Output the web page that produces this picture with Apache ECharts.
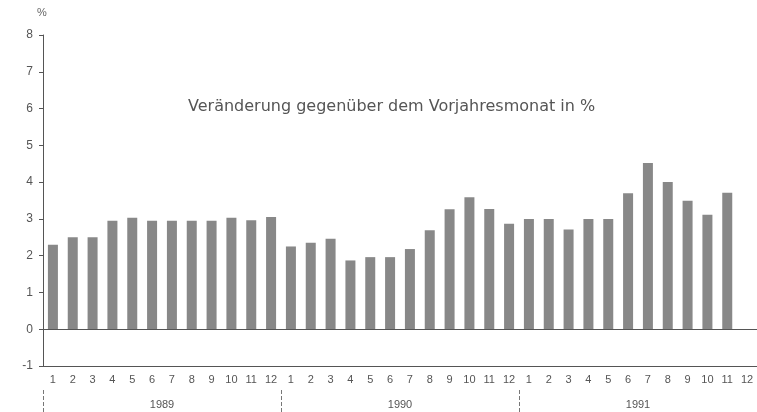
<!DOCTYPE html>
<html><head><meta charset="utf-8">
<script src="https://cdn.jsdelivr.net/npm/echarts@6/dist/echarts.min.js"></script>
<style>html,body{margin:0;padding:0;background:#fff}#c{width:757px;height:412px}</style>
</head><body><div id="c"></div>
<script>
const months = ['1','2','3','4','5','6','7','8','9','10','11','12'];
const years = ['1989','1990','1991'];
const values1989 = [2.3, 2.5, 2.5, 2.95, 3.03, 2.95, 2.95, 2.95, 2.95, 3.03, 2.96, 3.05];
const values1990 = [2.25, 2.35, 2.46, 1.87, 1.96, 1.96, 2.18, 2.69, 3.26, 3.59, 3.27, 2.87];
const values1991 = [3.0, 3.0, 2.71, 3.0, 3.0, 3.7, 4.52, 4.0, 3.49, 3.11, 3.71, null];
const yTicks = [-1, 0, 1, 2, 3, 4, 5, 6, 7, 8];
const titleText = 'Veränderung gegenüber dem Vorjahresmonat in %';
const unitText = '%';

const categories = [];
years.forEach(y => months.forEach(m => categories.push(m + '/' + y)));
const values = values1989.concat(values1990, values1991);

const chart = echarts.init(document.getElementById('c'));
chart.setOption({
  animation: false,
  backgroundColor: '#fff',
  textStyle: { fontFamily: 'Liberation Sans, Arial, sans-serif' },
  title: {
    text: titleText, left: 183, top: 94,
    textStyle: { fontSize: 16, fontWeight: 'normal', color: '#555', fontFamily: 'DejaVu Sans' }
  },
  graphic: [{ type: 'text', left: 37, top: 7, style: { text: unitText, fontSize: 11, fill: '#666' } }],
  grid: { left: 43, right: -3, top: 35, bottom: 46 },
  xAxis: [{
    type: 'category', data: categories, position: 'bottom',
    axisLine: { onZero: false, lineStyle: { color: '#555', width: 1 } },
    axisTick: { inside: true, length: 4, alignWithLabel: true, lineStyle: { color: '#666' } },
    axisLabel: { interval: 0, margin: 8, fontSize: 11, color: '#555',
      formatter: v => v.split('/')[0] }
  }, {
    type: 'category', data: years, position: 'bottom', offset: 24,
    axisLine: { show: false, onZero: false },
    axisTick: { show: true, length: 22, lineStyle: { color: '#777', type: 'dashed' } },
    axisLabel: { margin: 9, fontSize: 11, color: '#555' }
  }],
  yAxis: {
    type: 'value', min: -1, max: 8, interval: 1,
    axisLine: { show: true, lineStyle: { color: '#555' } },
    axisTick: { show: true, length: 4, lineStyle: { color: '#555' } },
    axisLabel: { fontSize: 12, color: '#555', margin: 10,
      formatter: v => yTicks.indexOf(v) >= 0 ? String(v) : '' },
    splitLine: { show: false }
  },
  series: [{
    type: 'bar', data: values, barWidth: 10, xAxisIndex: 0,
    itemStyle: { color: '#888' },
    markLine: { silent: true, symbol: 'none', label: { show: false },
      lineStyle: { color: '#555', type: 'solid', width: 1 },
      data: [{ yAxis: 0 }] }
  }]
});
</script></body></html>
